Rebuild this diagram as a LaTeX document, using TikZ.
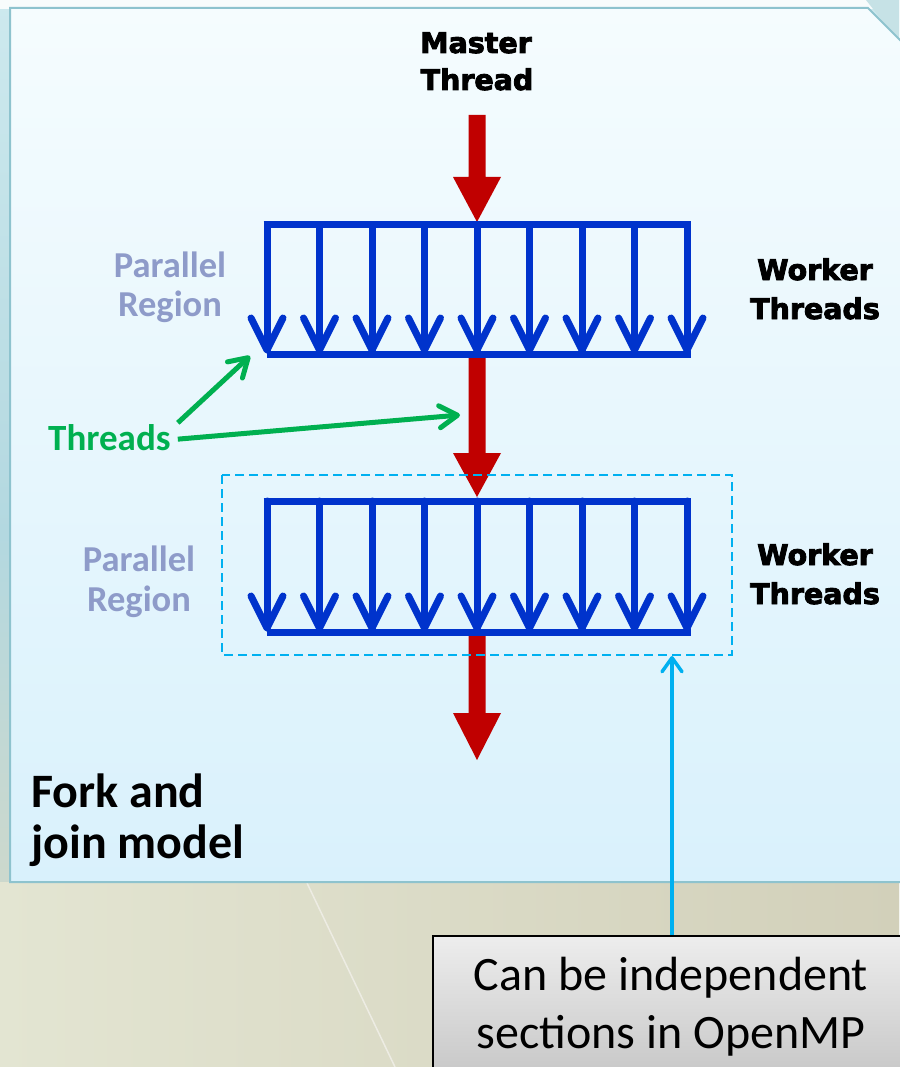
\documentclass[tikz,border=0pt]{standalone}
\usepackage{fontspec}
\setmainfont{Carlito}
\newfontfamily\heavy{DejaVu Sans}[BoldFeatures={FakeBold=3}]
\usetikzlibrary{arrows.meta}

\definecolor{bgTop}{HTML}{CDE9EE}
\definecolor{bgMid}{HTML}{B3D8E0}
\definecolor{bgBot}{HTML}{DAD8C2}
\definecolor{floorLeft}{HTML}{E3E5D2}
\definecolor{floorRight}{HTML}{D2D0BA}
\definecolor{cornerTeal}{HTML}{C6E2E6}
\definecolor{panelTop}{HTML}{F5FCFE}
\definecolor{panelBot}{HTML}{D9F1FC}
\definecolor{panelLine}{HTML}{8EC3CE}
\definecolor{forkRed}{HTML}{C00000}
\definecolor{threadBlue}{HTML}{0033CC}
\definecolor{regionText}{HTML}{8E9BC9}
\definecolor{threadGreen}{HTML}{00B050}
\definecolor{noteCyan}{HTML}{00B0F0}
\definecolor{noteTop}{HTML}{EDEDED}
\definecolor{noteBot}{HTML}{C6C6C6}

\tikzset{
  heavytext/.style={font=\heavy\bfseries\fontsize{28.5}{34}\selectfont, text=black, inner sep=0pt, anchor=base},
  regiontext/.style={font=\bfseries\fontsize{36.5}{40}\selectfont, text=regionText, inner sep=0pt, anchor=base},
  modeltext/.style={font=\bfseries\fontsize{48}{52}\selectfont, text=black, inner sep=0pt, anchor=base west},
  notetext/.style={font=\fontsize{48}{58}\selectfont, text=black, inner sep=0pt, anchor=base},
  fanbar/.style={threadBlue, line width=7pt},
  fanline/.style={threadBlue, line width=7pt, line cap=round, line join=round},
  pointer/.style={threadGreen, line width=5pt, -{Straight Barb[length=18pt,width=22pt,round]}},
  section/.style={noteCyan, line width=3.5pt, -{Straight Barb[length=14pt,width=20pt,round]}},
  sectionbox/.style={noteCyan, line width=2.2pt, dash pattern=on 9pt off 5pt},
}

% one fork: horizontal bar, nine worker arrows, joining bar
\newcommand\threadfan[2]{%
  \draw[fanbar] (263.5,#1) -- (690.5,#1);
  \draw[fanbar] (267,#2) -- (690.5,#2);
  \foreach \i in {0,...,8}{%
    \pgfmathsetmacro\fx{267+52.5*\i}
    \draw[fanline] (\fx,#1) -- (\fx,#2-4);
    \draw[fanline] (\fx-16,#2-36) -- (\fx,#2-4) -- (\fx+16,#2-36);
  }%
}

% thick block arrow of the master thread
\newcommand\masterarrow[3]{%
  \fill[forkRed] (468.5,#1) -- (485.5,#1) -- (485.5,#2) -- (501,#2)
    -- (477,#3) -- (453,#2) -- (468.5,#2) -- cycle;
}

\begin{document}
\begin{tikzpicture}[x=1pt,y=-1pt]
\useasboundingbox (0,0) rectangle (899,1067);

% backdrop
\shade[top color=bgTop, bottom color=bgBot, middle color=bgMid] (0,0) rectangle (899,1067);
\fill[white!85!bgTop] (0,0) rectangle (899,9);
\shade[left color=floorLeft, right color=floorRight] (0,882) rectangle (899,1067);
\draw[white!60!floorRight, line width=1.5pt] (307,883) -- (395,1067);
\fill[cornerTeal] (866,0) -- (899,0) -- (899,42) -- cycle;

% panel with clipped corner
\shade[top color=panelTop, bottom color=panelBot] (10,8) -- (868,8) -- (902,42) -- (902,882) -- (10,882) -- cycle;
\draw[panelLine, line width=2pt] (902,42) -- (868,8) -- (10,8) -- (10,882) -- (902,882);

% master thread
\node[heavytext] (master1) at (476,53) {Master};
\node[heavytext] (master2) at (477,90) {Thread};
\masterarrow{115}{177}{222}
\masterarrow{355}{453}{497}
\masterarrow{633}{713}{760}

% parallel regions
\threadfan{225}{354}
\threadfan{501}{632}

\node[regiontext] (par1) at (170,277) {Parallel};
\node[regiontext] (reg1) at (170,316) {Region};
\node[regiontext] (par2) at (139,571) {Parallel};
\node[regiontext] (reg2) at (139,611) {Region};

\node[heavytext] (work1) at (815,280) {Worker};
\node[heavytext] (thr1) at (815,319) {Threads};
\node[heavytext] (work2) at (815,565) {Worker};
\node[heavytext] (thr2) at (815,604) {Threads};

% independent section
\draw[sectionbox] (222,475) rectangle (732,655);
\coordinate (sectip) at (672,656);

% thread labels
\node[font=\bfseries\fontsize{37}{40}\selectfont, text=threadGreen, inner sep=0pt, anchor=base west] (threads) at (48,450) {Threads};
\coordinate (gtip1) at (250,356);
\coordinate (gtip2) at (460,415);
\draw[pointer] ([shift={(7,-1)}]threads.north east) -- (gtip1);
\draw[pointer] ([shift={(7,2)}]threads.east) -- (gtip2);

% model caption
\node[modeltext] (fork) at (31,807) {Fork and};
\node[modeltext] (join) at (31,858) {join model};

% callout
\node[draw=black, line width=1.5pt, top color=noteTop, bottom color=noteBot,
      minimum width=480pt, minimum height=145pt, inner sep=0pt, anchor=north west] (note) at (432,935) {};
\node[notetext] (note1) at (671,990) {Can be independent};
\node[notetext] (note2) at (671,1048) {sections in OpenMP};
\draw[section] (note.north -| sectip) -- (sectip);
\end{tikzpicture}
\end{document}
